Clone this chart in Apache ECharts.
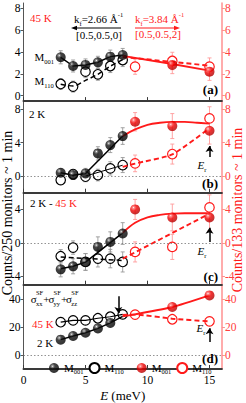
<!DOCTYPE html>
<html><head><meta charset="utf-8">
<script src="https://cdn.jsdelivr.net/npm/echarts@6/dist/echarts.min.js"></script>
<style>html,body{margin:0;padding:0;background:#fff}#c{width:246px;height:403px}</style>
</head><body><div id="c"></div>
<script>
// ---------- data ----------
const E_low = [3, 4, 5, 6, 7, 8];
const E_high = [9, 12, 15];
const xTicks = [0, 5, 10, 15];

// (a) 45 K
const a_M001 = [3.52, 2.72, 2.82, 3.06, 3.58, 3.73];
const a_M001_err = [0.6, 0.55, 0.55, 0.55, 0.6, 0.6];
const a_M110 = [1.07, 0.83, 2.2, 1.96, 2.72, 3.27];
const a_M110_err = [0.5, 0.5, 0.55, 0.55, 0.6, 0.6];
const a_M001r = [null, 2.82, 2.2];
const a_M001r_err = [0, 0.8, 0.8];
const a_M110r = [2.66, 3.18, 2.66];
const a_M110r_err = [0.7, 0.8, 0.8];
const a_fit_M110 = [[3, 1.05], [4, 0.88], [5, 1.4], [6, 1.96], [7, 2.7], [8, 3.3]];
const a_fit_M001r = [[8, 3.65], [12, 2.9], [15, 2.3]];
const a_fit_M110r = [[8, 3.55], [12, 3.1], [15, 2.75]];
const a_ticks = [0, 2, 4, 6, 8];

// (b) 2 K
const b_M001 = [0.4, 0.12, 0.32, 2.72, 3.72, 4.8];
const b_M001_err = [0.5, 0.5, 0.6, 0.8, 0.9, 1.0];
const b_M110 = [-0.48, 0.24, -0.08, 0.12, 0.92, 1.32];
const b_M110_err = [0.5, 0.5, 0.6, 0.7, 0.8, 0.9];
const b_M001r = [6.52, 6.0, 5.44];
const b_M001r_err = [1.1, 1.5, 1.6];
const b_M110r = [1.52, 2.64, 6.92];
const b_M110r_err = [1.0, 1.2, 1.4];
const b_fit_M001 = [[3, 0.4], [4, 0.1], [5, 0.3], [8, 4.8]];
const b_fit_M110 = [[5, 0.0], [8, 1.3]];
const b_fit_M001r = [[8, 4.8], [9, 5.6], [10, 6.15], [11, 6.4], [12, 6.5], [13, 6.5], [14, 6.4], [15, 6.3]];
const b_fit_M110r = [[8, 1.1], [9, 1.5], [12, 2.6], [15, 5.75]];
const b_arrow = [[15, 2.3], [15, 3.6]];
const b_ticks = [0, 4, 8];

// (c) 2 K - 45 K
const c_M001 = [-3.16, -2.8, -2.28, -0.48, 0.12, 1.12];
const c_M001_err = [0.9, 0.9, 1.0, 1.2, 1.2, 1.3];
const c_M110 = [-1.6, -0.56, -2.28, -1.88, -1.88, -2.28];
const c_M110_err = [0.8, 0.8, 1.0, 1.0, 1.1, 1.2];
const c_M001r = [4.0, 3.04, 3.04];
const c_M001r_err = [1.2, 1.6, 1.6];
const c_M110r = [-1.08, -0.48, 4.24];
const c_M110r_err = [1.2, 1.5, 1.5];
const c_fit_M001 = [[3, -3.1], [4, -2.8], [5, -2.3], [8, 1.2]];
const c_fit_M110 = [[3, -1.7], [8, -2.1]];
const c_fit_M001r = [[8, 1.2], [9, 2.4], [10, 3.05], [11, 3.35], [12, 3.5], [13, 3.55], [15, 3.55]];
const c_fit_M110r = [[8, -1.9], [15, 3.5]];
const c_arrow = [[15, 0.1], [15, 1.8]];
const c_ticks = [-4, 0, 4];

// (d) sum
const d_M001 = [10.9, 13.5, 15.8, 18.9, 22.8, null];
const d_M110 = [23.3, 24.6, 24.6, 26.1, 27.2, 28.9];
const d_M001r = [null, 34.1, 42.4];
const d_M110r = [28.7, 25.4, 23.9];
const d_fit_M001 = [[3, 10.9], [4, 13.5], [5, 15.8], [6, 18.9], [7, 22.8], [8, 27.5]];
const d_fit_M110 = [[3, 23.3], [4, 24.6], [5, 24.6], [6, 26.1], [7, 27.2], [8, 28.9]];
const d_fit_M001r = [[8, 27.5], [9, 28.9], [12, 34.1], [15, 42.4]];
const d_fit_M110r = [[8, 28.5], [9, 28.7], [12, 25.8], [15, 23.9]];
const d_arrow = [[15, 9.2], [15, 19]];
const d_arrow_down = [[7.65, 41.7], [7.65, 29.8]];
const d_ticks = [0, 20, 40];

// ---------- styling ----------
const F = 'Liberation Serif';
const RED = '#ff1a1a';
const RED_AX = '#ff9090';
const DARK = '#3a3a3a';
const ballBlack = {type: 'radial', x: 0.35, y: 0.32, r: 0.7, colorStops: [
  {offset: 0, color: '#ffffff'}, {offset: 0.1, color: '#8a8a8a'}, {offset: 0.35, color: '#141414'}, {offset: 1, color: '#000'}]};
const ballRed = {type: 'radial', x: 0.35, y: 0.32, r: 0.7, colorStops: [
  {offset: 0, color: '#ffffff'}, {offset: 0.12, color: '#ff7a7a'}, {offset: 0.45, color: '#f00000'}, {offset: 1, color: '#b00000'}]};

const grids = [
  {top: 3, height: 98.1, min: -0.5, max: 8.5, ticks: a_ticks},
  {top: 101.1, height: 91.6, min: -2, max: 9, ticks: b_ticks},
  {top: 192.7, height: 92, min: -5, max: 6, ticks: c_ticks},
  {top: 284.7, height: 92.3, min: -10, max: 50, ticks: d_ticks}
];

function pts(xs, ys) { return xs.map((x, i) => ys[i] == null ? null : [x, ys[i]]).filter(Boolean); }
function errs(xs, ys, es) { return xs.map((x, i) => ys[i] == null ? null : [x, ys[i] - es[i], ys[i] + es[i]]).filter(Boolean); }

function errRender(color) {
  return function (params, api) {
    const x = api.value(0), lo = api.value(1), hi = api.value(2);
    const p1 = api.coord([x, lo]), p2 = api.coord([x, hi]);
    const w = 2;
    const st = {stroke: color, lineWidth: 0.9};
    return {type: 'group', children: [
      {type: 'line', shape: {x1: p1[0], y1: p1[1], x2: p2[0], y2: p2[1]}, style: st},
      {type: 'line', shape: {x1: p1[0] - w, y1: p1[1], x2: p1[0] + w, y2: p1[1]}, style: st},
      {type: 'line', shape: {x1: p2[0] - w, y1: p2[1], x2: p2[0] + w, y2: p2[1]}, style: st}
    ]};
  };
}

const series = [];
function errSeries(g, right, data, color) {
  series.push({type: 'custom', xAxisIndex: g, yAxisIndex: 2 * g + (right ? 1 : 0), data: data,
    encode: {x: 0, y: [1, 2]}, renderItem: errRender(color), z: 1, silent: true});
}
function ptSeries(g, right, name, data, filled) {
  const red = right;
  series.push({type: 'scatter', name: name, xAxisIndex: g, yAxisIndex: 2 * g + (right ? 1 : 0), data: data,
    symbol: 'circle', symbolSize: filled ? 10 : 9.5, z: filled ? 5 : 2,
    itemStyle: filled ? {color: red ? ballRed : ballBlack, borderWidth: 0}
                      : {color: '#fff', borderColor: red ? RED : '#000', borderWidth: 1.2, opacity: 1}});
}
function lineSeries(g, right, data, dashed, extra) {
  series.push(Object.assign({type: 'line', xAxisIndex: g, yAxisIndex: 2 * g + (right ? 1 : 0), data: data,
    showSymbol: false, symbol: 'none', smooth: data.length > 3 && right ? 0.4 : false, z: 3, silent: true,
    lineStyle: {color: right ? RED : '#000', width: right ? 1.9 : 1.5, type: dashed ? [5, 3] : 'solid'}}, extra || {}));
}
function zeroLine(g) {
  series.push({type: 'line', xAxisIndex: g, yAxisIndex: 2 * g, data: [], silent: true,
    markLine: {silent: true, symbol: 'none', label: {show: false}, animation: false,
      lineStyle: {type: [1.5, 2], color: '#777', width: 0.8}, data: [{yAxis: 0}]}});
}
function arrow(g, seg) {
  series.push({type: 'line', xAxisIndex: g, yAxisIndex: 2 * g, data: [], silent: true,
    markLine: {silent: true, symbol: ['none', 'arrow'], symbolSize: 6, label: {show: false}, animation: false,
      lineStyle: {type: 'solid', color: '#000', width: 1.5},
      data: [[{coord: seg[0]}, {coord: seg[1]}]]}});
}

function panel(g, M001, M001e, M110, M110e, M001r, M001re, M110r, M110re) {
  if (M110e) errSeries(g, false, errs(E_low, M110, M110e), '#999');
  if (M001e) errSeries(g, false, errs(E_low, M001, M001e), '#999');
  if (M110re) errSeries(g, true, errs(E_high, M110r, M110re), '#ff9a9a');
  if (M001re) errSeries(g, true, errs(E_high, M001r, M001re), '#ff9a9a');
  ptSeries(g, false, 'bo', pts(E_low, M110), false);
  ptSeries(g, false, 'bf', pts(E_low, M001), true);
  ptSeries(g, true, 'ro', pts(E_high, M110r), false);
  ptSeries(g, true, 'rf', pts(E_high, M001r), true);
}

// panel a
panel(0, a_M001, a_M001_err, a_M110, a_M110_err, a_M001r, a_M001r_err, a_M110r, a_M110r_err);
lineSeries(0, false, pts(E_low, a_M001), false);
lineSeries(0, false, a_fit_M110, true, {smooth: 0.3});
lineSeries(0, true, a_fit_M001r, false, {smooth: false});
lineSeries(0, true, a_fit_M110r, true, {smooth: false});
// panel b
panel(1, b_M001, b_M001_err, b_M110, b_M110_err, b_M001r, b_M001r_err, b_M110r, b_M110r_err);
zeroLine(1);
lineSeries(1, false, b_fit_M001, false);
lineSeries(1, false, b_fit_M110, false, {lineStyle: {color: '#000', width: 1}});
lineSeries(1, true, b_fit_M001r, false);
lineSeries(1, true, b_fit_M110r, true, {smooth: 0.2});
arrow(1, b_arrow);
// panel c
panel(2, c_M001, c_M001_err, c_M110, c_M110_err, c_M001r, c_M001r_err, c_M110r, c_M110r_err);
zeroLine(2);
lineSeries(2, false, c_fit_M001, false);
lineSeries(2, false, c_fit_M110, true);
lineSeries(2, true, c_fit_M001r, false);
lineSeries(2, true, c_fit_M110r, true);
arrow(2, c_arrow);
// panel d
panel(3, d_M001, null, d_M110, null, d_M001r, null, d_M110r, null);
zeroLine(3);
lineSeries(3, false, d_fit_M001, false);
lineSeries(3, false, d_fit_M110, false, {lineStyle: {color: '#000', width: 1.2}});
lineSeries(3, true, d_fit_M001r, false, {smooth: 0.2});
lineSeries(3, true, d_fit_M110r, true, {smooth: 0.2});
arrow(3, d_arrow);
arrow(3, d_arrow_down);

const gridOpts = grids.map(g => ({left: 23.5, width: 198.4, top: g.top, height: g.height, containLabel: false}));
const xAxes = grids.map((g, i) => ({
  type: 'value', gridIndex: i, min: 0, max: 16,
  axisLine: {show: true, onZero: false, lineStyle: {color: DARK, width: 2}},
  axisTick: {show: true, inside: true, length: 4, customValues: xTicks, lineStyle: {color: DARK, width: 1}},
  axisLabel: {show: i === 3, customValues: xTicks, fontFamily: F, fontSize: 11.5, color: '#000', margin: 5},
  splitLine: {show: false},
  name: i === 3 ? '{i|E} (meV)' : '', nameLocation: 'middle', nameGap: 20,
  nameTextStyle: {fontFamily: F, fontSize: 13, color: '#000', rich: {i: {fontStyle: 'italic', fontFamily: F, fontSize: 13}}}
}));
const yAxes = [];
grids.forEach((g, i) => {
  yAxes.push({type: 'value', gridIndex: i, position: 'left', min: g.min, max: g.max,
    axisLine: {show: true, onZero: false, lineStyle: {color: '#555', width: 1}},
    axisTick: {show: true, length: 3, customValues: g.ticks, lineStyle: {color: '#555'}},
    axisLabel: {customValues: g.ticks, fontFamily: F, fontSize: 11.5, color: '#000', margin: 3},
    splitLine: {show: false}});
  yAxes.push({type: 'value', gridIndex: i, position: 'right', min: g.min, max: g.max,
    axisLine: {show: true, onZero: false, lineStyle: {color: RED_AX, width: 1.5}},
    axisTick: {show: true, length: 3, customValues: g.ticks, lineStyle: {color: RED_AX}},
    axisLabel: {customValues: g.ticks, fontFamily: F, fontSize: 11.5, color: '#ff4040', margin: 3},
    splitLine: {show: false}});
});

const RICH = {
  m: {fontSize: 11, lineHeight: 16, fontFamily: F},
  s: {fontSize: 6.5, lineHeight: 7, verticalAlign: 'bottom', fontFamily: F},
  p: {fontSize: 6.5, lineHeight: 7, verticalAlign: 'top', fontFamily: F},
  e: {fontSize: 11, lineHeight: 16, fontFamily: F, fontStyle: 'italic'}
};
function txt(x, y, text, fill, opts) {
  return Object.assign({type: 'text', x: x, y: y, z: 50,
    style: Object.assign({text: text, fill: fill || '#000', font: '11px "' + F + '"', verticalAlign: 'middle', align: 'left', rich: RICH}, (opts && opts.style) || {})},
    opts && opts.el || {});
}
const graphics = [
  // axis titles
  txt(7.5, 213, 'Counts/250 monitors ~ 1 min', '#000', {style: {font: '14px "' + F + '"', align: 'center'}, el: {rotation: Math.PI / 2}}),
  txt(237.5, 210, 'Counts/133 monitors ~ 1 min', RED, {style: {font: '14px "' + F + '"', align: 'center'}, el: {rotation: Math.PI / 2}}),
  // panel a
  txt(30, 18, '45 K', RED),
  txt(34.5, 57, '{m|M}{s|001}', '#000'),
  txt(34.5, 81, '{m|M}{s|110}', '#000'),
  txt(74, 19, '{m|k}{s|f}{m|=2.66 Å}{p|-1}', '#000'),
  txt(76, 35, '[0.5,0.5,0]', '#000'),
  txt(135, 19, '{m|k}{s|f}{m|=3.84 Å}{p|-1}', RED),
  txt(135, 34, '[0.5,0.5,2]', RED),
  {type: 'line', shape: {x1: 121, y1: 28, x2: 74, y2: 28}, style: {stroke: '#000', lineWidth: 1}, z: 50},
  {type: 'polygon', shape: {points: [[71, 28], [77, 25.8], [77, 30.2]]}, style: {fill: '#000'}, z: 50},
  {type: 'line', shape: {x1: 135, y1: 28, x2: 177, y2: 28}, style: {stroke: RED, lineWidth: 1}, z: 50},
  {type: 'polygon', shape: {points: [[180, 28], [174, 25.8], [174, 30.2]]}, style: {fill: RED}, z: 50},
  txt(218, 89, '(a)', '#000', {style: {font: 'bold 13px "' + F + '"', align: 'right'}}),
  // panel b
  txt(29, 114, '2 K'),
  txt(218, 183, '(b)', '#000', {style: {font: 'bold 13px "' + F + '"', align: 'right'}}),
  txt(197.5, 165, '{e|E}{s|r}'),
  // panel c
  txt(30, 203, '{m|2 K - }{r|45 K}', '#000', {style: {rich: Object.assign({}, RICH, {r: {fontSize: 11, lineHeight: 16, fontFamily: F, fill: RED}})}}),
  txt(218, 276, '(c)', '#000', {style: {font: 'bold 13px "' + F + '"', align: 'right'}}),
  txt(197.5, 251, '{e|E}{s|r}'),
  // panel d
  txt(32, 324, '45 K', RED),
  txt(37, 343, '2 K'),
  txt(218, 358, '(d)', '#000', {style: {font: 'bold 13px "' + F + '"', align: 'right'}}),
  txt(196.5, 328, '{e|E}{s|r}')
];
['xx', 'yy', 'zz'].forEach((s, i) => {
  const x0 = 30.7 + i * 17.7;
  graphics.push(txt(x0, 299, 'σ'));
  graphics.push(txt(x0 + 5.2, 292.5, 'SF', '#000', {style: {font: '6.5px "' + F + '"'}}));
  graphics.push(txt(x0 + 5.2, 303.5, s, '#000', {style: {font: '6.5px "' + F + '"'}}));
  if (i < 2) graphics.push(txt(x0 + 12.5, 299, '+'));
});

const legRich = {m: {fontSize: 11, lineHeight: 14, fontFamily: F}, s: {fontSize: 6.5, lineHeight: 7, verticalAlign: 'bottom', fontFamily: F}};
const legName = {bf: '{m|M}{s|001}', bo: '{m|M}{s|110}', rf: '{m|M}{s|001}', ro: '{m|M}{s|110}'};

const chart = echarts.init(document.getElementById('c'), null, {renderer: 'svg'});
chart.setOption({
  animation: false,
  backgroundColor: '#fff',
  grid: gridOpts,
  xAxis: xAxes,
  yAxis: yAxes,
  legend: [
    {left: 49, top: 362, padding: 0, itemWidth: 10, itemHeight: 10, itemGap: 5, selectedMode: false, data: ['bf', 'bo'],
      formatter: n => legName[n], textStyle: {fontFamily: F, fontSize: 11, color: '#000', rich: legRich}},
    {left: 136.7, top: 362, padding: 0, itemWidth: 10, itemHeight: 10, itemGap: 5, selectedMode: false, data: ['rf', 'ro'],
      formatter: n => legName[n], textStyle: {fontFamily: F, fontSize: 11, color: '#000', rich: legRich}}
  ],
  graphic: graphics,
  series: series
});
</script>
</body></html>
